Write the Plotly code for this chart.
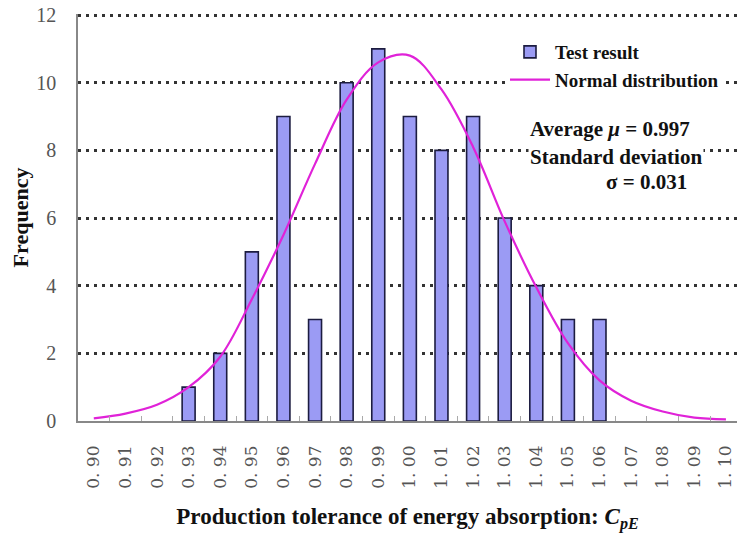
import plotly.graph_objects as go

categories = ["0. 90", "0. 91", "0. 92", "0. 93", "0. 94", "0. 95", "0. 96", "0. 97",
              "0. 98", "0. 99", "1. 00", "1. 01", "1. 02", "1. 03", "1. 04", "1. 05",
              "1. 06", "1. 07", "1. 08", "1. 09", "1. 10"]
test_counts = [None, None, None, 1, 2, 5, 9, 3, 10, 11, 9, 8, 9, 6, 4, 3, 3,
               None, None, None, None]
normal_curve = [0.08, 0.22, 0.48, 1.0, 1.9, 3.6, 5.5, 7.6, 9.5, 10.6, 10.8, 9.8,
                8.1, 5.9, 3.95, 2.3, 1.2, 0.6, 0.28, 0.1, 0.05]
y_ticks = [0, 2, 4, 6, 8, 10, 12]

SERIF = "Liberation Serif, Times New Roman, serif"

fig = go.Figure()
fig.add_trace(go.Bar(
    x=categories, y=test_counts, name="Test result", width=0.41,
    marker=dict(color="#9b9bf4", line=dict(color="#1c1c40", width=1.6)),
))
fig.add_trace(go.Scatter(
    x=categories, y=normal_curve, name="Normal distribution", mode="lines",
    line=dict(color="#e022d8", width=2.2, shape="spline", smoothing=1.0),
))

fig.update_layout(
    width=737, height=540,
    margin=dict(l=78, r=0, t=14, b=119),
    plot_bgcolor="white", paper_bgcolor="white",
    showlegend=True,
    legend=dict(
        x=(505 - 78) / 659, y=(421 - 34) / 406, xanchor="left", yanchor="top",
        bgcolor="white", itemwidth=40,
        font=dict(family=SERIF, size=19, color="#111", weight="bold"),
        tracegroupgap=0,
    ),
    font=dict(family=SERIF),
)

fig.update_xaxes(
    type="category", categoryorder="array", categoryarray=categories,
    range=[-0.5, 20.35],
    tickson="boundaries", ticks="inside", ticklen=5, tickcolor="#aaa", tickwidth=1,
    showline=True, linecolor="#888", linewidth=1.5,
    tickangle=-90, ticklabelstandoff=16,
    tickfont=dict(family="DejaVu Serif", size=17, color="#555"),
    showgrid=False, zeroline=False,
    title=dict(text="<b>Production tolerance of energy absorption: <i>C</i><sub><i>pE</i></sub></b>",
               font=dict(family=SERIF, size=23, color="#111"), standoff=20),
)
fig.update_yaxes(
    range=[0, 12.03], tickvals=y_ticks, ticks="", ticklabelstandoff=16,
    tickfont=dict(family=SERIF, size=20, color="#555"),
    showline=True, linecolor="#888", linewidth=1.5,
    showgrid=True, gridcolor="#333", gridwidth=2.5, griddash="3px,5px",
    zeroline=False,
    title=dict(text="<b>Frequency</b>", font=dict(family=SERIF, size=22, color="#111"),
               standoff=2),
)

ann_font = dict(family=SERIF, size=21, color="#111")
fig.add_annotation(xref="paper", yref="paper", x=(528 - 78) / 659, y=(421 - 130) / 406,
                   xanchor="left", yanchor="middle", showarrow=False, bgcolor="white",
                   text="<b>Average <i>μ</i> = 0.997</b>", font=ann_font)
fig.add_annotation(xref="paper", yref="paper", x=(528 - 78) / 659, y=(421 - 158) / 406,
                   xanchor="left", yanchor="middle", showarrow=False, bgcolor="white",
                   text="<b>Standard deviation</b>", font=ann_font)
fig.add_annotation(xref="paper", yref="paper", x=(604 - 78) / 659, y=(421 - 183) / 406,
                   xanchor="left", yanchor="middle", showarrow=False, bgcolor="white",
                   text="<b>σ = 0.031</b>", font=ann_font)

fig.write_html("out.html")
